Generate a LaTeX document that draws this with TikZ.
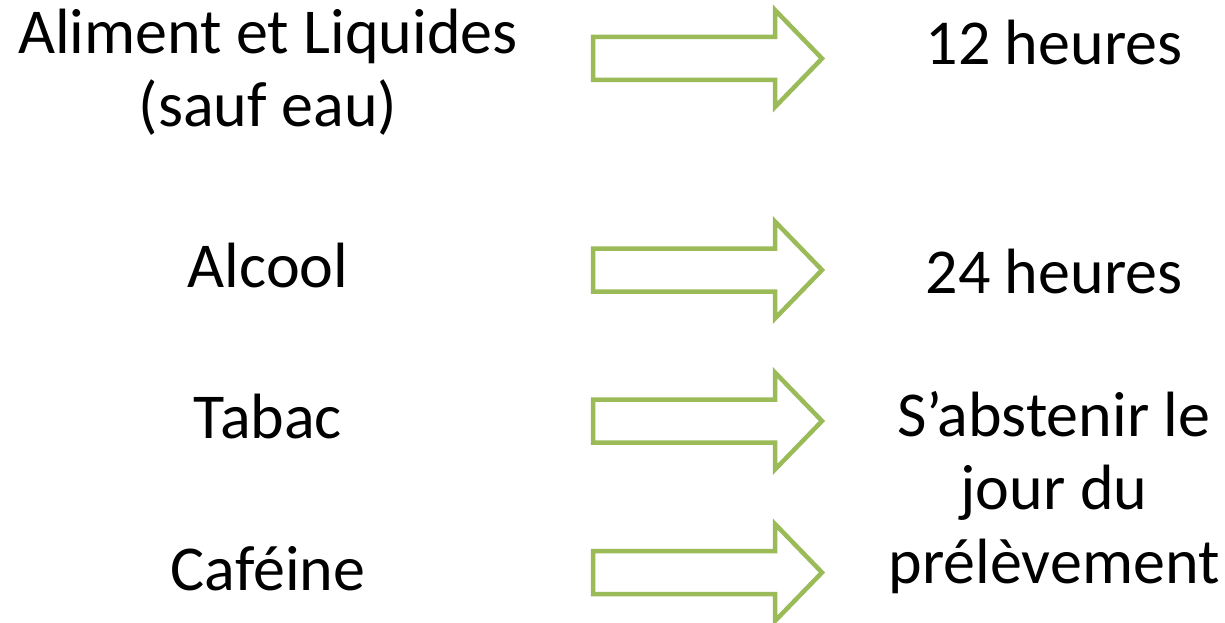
\documentclass[tikz,border=0pt]{standalone}
\usepackage{fontspec}
\setmainfont{Carlito}
\definecolor{arrowgreen}{HTML}{9BBB59}
\begin{document}
\begin{tikzpicture}[x=1pt,y=-1pt,
  label/.style={anchor=base,align=center,inner sep=0pt,
    font=\fontsize{64}{73.5}\selectfont},
  blockarrow/.style={draw=arrowgreen,line width=4.5pt,line join=miter,fill=white}]
\useasboundingbox (0,0) rectangle (1225,623);

% left column: what to avoid (multi-line nodes sit on their last baseline)
\node[label] (food)  at (268,127) {Aliment et Liquides\\(sauf eau)};
\node[label] (alc)   at (268,287) {Alcool};
\node[label] (tob)   at (268,438) {Tabac};
\node[label] (caf)   at (268,590) {Caféine};

% right column: how long before sampling
\node[label] (h12)   at (1054,65)  {12 heures};
\node[label] (h24)   at (1054,293) {24 heures};
\node[label] (day)   at (1054,583) {S’abstenir le\\jour du\\prélèvement};

% hollow block arrows, one per row
\foreach \cy/\nm in {58.5/a1, 270/a2, 421/a3, 572.5/a4}{
  \draw[blockarrow] (593,\cy-21.5) -- (775,\cy-21.5) -- (775,\cy-48.5)
    -- (822,\cy) -- (775,\cy+48.5) -- (775,\cy+21.5) -- (593,\cy+21.5) -- cycle;
}
\end{tikzpicture}
\end{document}
